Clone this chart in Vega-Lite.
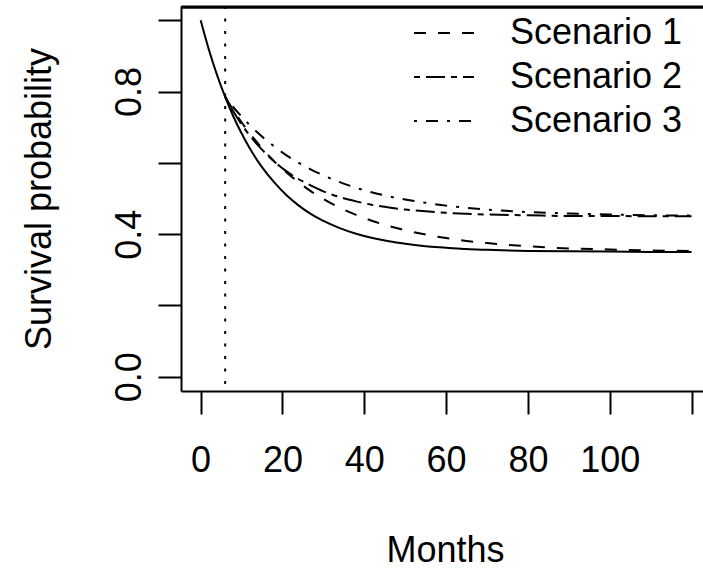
{
 "$schema": "https://vega.github.io/schema/vega-lite/v6.json",
 "width": 522,
 "height": 385,
 "autosize": {"type": "none"},
 "padding": {"left": 181, "top": 6, "right": 0, "bottom": 178},
 "background": "white",
 "config": {"font": "Liberation Sans", "view": {"stroke": null}, "axis": {"grid": false}},
 "datasets": {
  "curves": [
   {"series":"Base","t":0,"S":1.000},{"series":"Base","t":2,"S":0.918},{"series":"Base","t":4,"S":0.847},{"series":"Base","t":6,"S":0.785},{"series":"Base","t":8,"S":0.730},{"series":"Base","t":10,"S":0.683},{"series":"Base","t":12,"S":0.641},{"series":"Base","t":15,"S":0.588},{"series":"Base","t":18,"S":0.545},{"series":"Base","t":21,"S":0.509},{"series":"Base","t":24,"S":0.480},{"series":"Base","t":27,"S":0.456},{"series":"Base","t":30,"S":0.437},{"series":"Base","t":34,"S":0.417},{"series":"Base","t":38,"S":0.401},{"series":"Base","t":42,"S":0.389},{"series":"Base","t":46,"S":0.380},{"series":"Base","t":50,"S":0.373},{"series":"Base","t":55,"S":0.366},{"series":"Base","t":60,"S":0.362},{"series":"Base","t":65,"S":0.358},{"series":"Base","t":70,"S":0.356},{"series":"Base","t":80,"S":0.353},{"series":"Base","t":90,"S":0.352},{"series":"Base","t":100,"S":0.351},{"series":"Base","t":110,"S":0.350},{"series":"Base","t":120,"S":0.350},
   {"series":"Scenario 1","t":6,"S":0.785},{"series":"Scenario 1","t":8,"S":0.748},{"series":"Scenario 1","t":10,"S":0.714},{"series":"Scenario 1","t":12,"S":0.683},{"series":"Scenario 1","t":15,"S":0.641},{"series":"Scenario 1","t":18,"S":0.604},{"series":"Scenario 1","t":21,"S":0.573},{"series":"Scenario 1","t":24,"S":0.545},{"series":"Scenario 1","t":27,"S":0.520},{"series":"Scenario 1","t":30,"S":0.499},{"series":"Scenario 1","t":34,"S":0.474},{"series":"Scenario 1","t":38,"S":0.454},{"series":"Scenario 1","t":42,"S":0.437},{"series":"Scenario 1","t":46,"S":0.423},{"series":"Scenario 1","t":50,"S":0.411},{"series":"Scenario 1","t":55,"S":0.399},{"series":"Scenario 1","t":60,"S":0.389},{"series":"Scenario 1","t":65,"S":0.381},{"series":"Scenario 1","t":70,"S":0.375},{"series":"Scenario 1","t":80,"S":0.366},{"series":"Scenario 1","t":90,"S":0.360},{"series":"Scenario 1","t":100,"S":0.357},{"series":"Scenario 1","t":110,"S":0.354},{"series":"Scenario 1","t":120,"S":0.353},
   {"series":"Scenario 2","t":6,"S":0.785},{"series":"Scenario 2","t":8,"S":0.744},{"series":"Scenario 2","t":10,"S":0.708},{"series":"Scenario 2","t":12,"S":0.677},{"series":"Scenario 2","t":15,"S":0.637},{"series":"Scenario 2","t":18,"S":0.604},{"series":"Scenario 2","t":21,"S":0.576},{"series":"Scenario 2","t":24,"S":0.554},{"series":"Scenario 2","t":27,"S":0.536},{"series":"Scenario 2","t":30,"S":0.520},{"series":"Scenario 2","t":34,"S":0.504},{"series":"Scenario 2","t":38,"S":0.492},{"series":"Scenario 2","t":42,"S":0.482},{"series":"Scenario 2","t":46,"S":0.475},{"series":"Scenario 2","t":50,"S":0.469},{"series":"Scenario 2","t":55,"S":0.464},{"series":"Scenario 2","t":60,"S":0.460},{"series":"Scenario 2","t":65,"S":0.457},{"series":"Scenario 2","t":70,"S":0.455},{"series":"Scenario 2","t":80,"S":0.453},{"series":"Scenario 2","t":90,"S":0.451},{"series":"Scenario 2","t":100,"S":0.451},{"series":"Scenario 2","t":110,"S":0.450},{"series":"Scenario 2","t":120,"S":0.450},
   {"series":"Scenario 3","t":6,"S":0.785},{"series":"Scenario 3","t":8,"S":0.756},{"series":"Scenario 3","t":10,"S":0.730},{"series":"Scenario 3","t":12,"S":0.706},{"series":"Scenario 3","t":15,"S":0.674},{"series":"Scenario 3","t":18,"S":0.646},{"series":"Scenario 3","t":21,"S":0.621},{"series":"Scenario 3","t":24,"S":0.600},{"series":"Scenario 3","t":27,"S":0.581},{"series":"Scenario 3","t":30,"S":0.565},{"series":"Scenario 3","t":34,"S":0.546},{"series":"Scenario 3","t":38,"S":0.530},{"series":"Scenario 3","t":42,"S":0.517},{"series":"Scenario 3","t":46,"S":0.506},{"series":"Scenario 3","t":50,"S":0.497},{"series":"Scenario 3","t":55,"S":0.488},{"series":"Scenario 3","t":60,"S":0.480},{"series":"Scenario 3","t":65,"S":0.474},{"series":"Scenario 3","t":70,"S":0.469},{"series":"Scenario 3","t":80,"S":0.462},{"series":"Scenario 3","t":90,"S":0.458},{"series":"Scenario 3","t":100,"S":0.455},{"series":"Scenario 3","t":110,"S":0.453},{"series":"Scenario 3","t":120,"S":0.452}
  ],
  "marker": [{"t": 6}],
  "frame": [{"t0": -4.8, "t1": 122.8, "S": 1.036}]
 },
 "resolve": {"axis": {"x": "independent"}},
 "layer": [
  {
   "data": {"name": "curves"},
   "transform": [{"filter": "datum.series == 'Base'"}],
   "mark": {"type": "line", "color": "black", "strokeWidth": 2, "interpolate": "monotone"},
   "encoding": {
    "x": {"field": "t", "type": "quantitative",
     "scale": {"domain": [-4.8, 122.8], "nice": false, "zero": false},
     "axis": {"orient": "bottom", "values": [0, 20, 40, 60, 80, 100, 120], "labelExpr": "datum.value == 120 ? '' : datum.label",
      "title": "Months", "titleX": 264, "titleY": 170, "titleAlign": "center", "titleBaseline": "alphabetic",
      "titleFontSize": 36, "titleFontWeight": "normal", "titleColor": "black",
      "labelFontSize": 36, "labelColor": "black", "labelBaseline": "alphabetic", "labelPadding": 57,
      "labelFlush": false, "labelOverlap": false,
      "tickSize": 23, "tickWidth": 2, "tickColor": "black", "domainColor": "black", "domainWidth": 2}},
    "y": {"field": "S", "type": "quantitative",
     "scale": {"domain": [-0.04, 1.04], "nice": false, "zero": false},
     "axis": {"values": [0, 0.2, 0.4, 0.6, 0.8, 1], "labelExpr": "(datum.value == 0 || datum.value == 0.4 || datum.value == 0.8) ? format(datum.value, '.1f') : ''",
      "title": "Survival probability", "titleX": -131, "titleY": 192.5, "titleAngle": 270, "titleAlign": "center", "titleBaseline": "alphabetic",
      "titleFontSize": 36, "titleFontWeight": "normal", "titleColor": "black",
      "labelFontSize": 36, "labelColor": "black", "labelAngle": 270, "labelAlign": "center", "labelBaseline": "alphabetic", "labelPadding": 18,
      "labelFlush": false, "labelOverlap": false,
      "tickSize": 23, "tickWidth": 2, "tickColor": "black", "domainColor": "black", "domainWidth": 2}}
   }
  },
  {
   "data": {"name": "curves"},
   "transform": [{"filter": "datum.series != 'Base'"}],
   "mark": {"type": "line", "color": "black", "strokeWidth": 2, "interpolate": "monotone"},
   "encoding": {
    "x": {"field": "t", "type": "quantitative", "axis": null},
    "y": {"field": "S", "type": "quantitative"},
    "strokeDash": {"field": "series", "type": "nominal",
     "scale": {"domain": ["Scenario 1", "Scenario 2", "Scenario 3"], "range": [[12, 12], [6, 6, 19, 6], [3, 9, 12, 9]]},
     "legend": {"orient": "none", "legendX": 245, "legendY": 9, "title": null, "padding": 0,
      "symbolType": "M-2,0H2", "symbolSize": 900, "symbolStrokeWidth": 2, "symbolStrokeColor": "black",
      "labelFontSize": 36, "labelColor": "black", "labelOffset": 48, "labelLimit": 400, "rowPadding": 8}}
   }
  },
  {
   "data": {"name": "marker"},
   "mark": {"type": "rule", "color": "black", "strokeWidth": 2, "strokeDash": [3, 9.5]},
   "encoding": {"x": {"field": "t", "type": "quantitative",
     "axis": {"orient": "top", "labels": false, "ticks": false, "title": null, "domain": true, "domainColor": "black", "domainWidth": 2}}}
  },
  {
   "data": {"name": "frame"},
   "mark": {"type": "rule", "color": "black", "strokeWidth": 2.5},
   "encoding": {"x": {"field": "t0", "type": "quantitative", "axis": null}, "x2": {"field": "t1"}, "y": {"field": "S", "type": "quantitative"}}
  }
 ]
}
